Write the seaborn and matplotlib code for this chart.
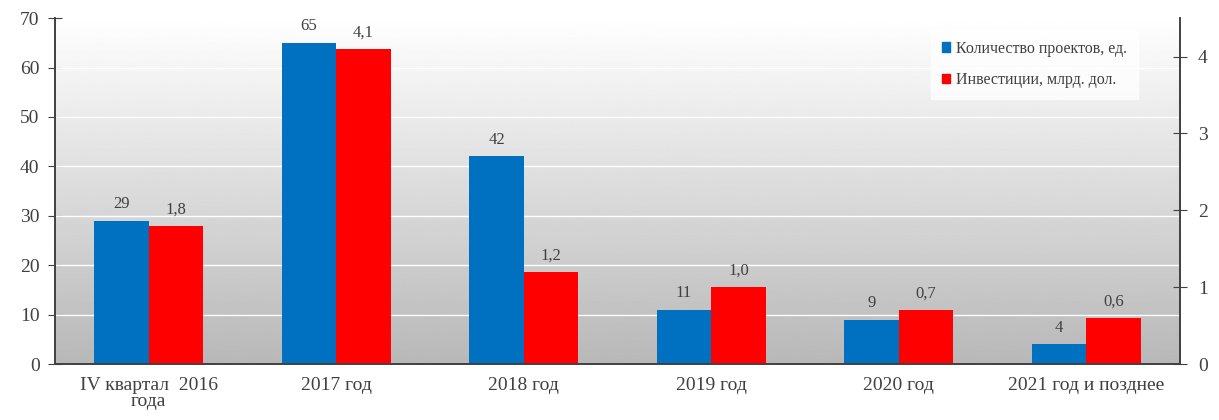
import numpy as np
import pandas as pd
import matplotlib
matplotlib.use("Agg")
import matplotlib.pyplot as plt
from matplotlib.patches import Patch
import seaborn as sns

categories = ["IV квартал  2016\nгода", "2017 год", "2018 год", "2019 год", "2020 год", "2021 год и позднее"]
projects = [29, 65, 42, 11, 9, 4]
investments = [1.8, 4.1, 1.2, 1.0, 0.7, 0.6]
series = ["Количество проектов, ед.", "Инвестиции, млрд. дол."]
colors = ["#0070c0", "#ff0000"]

sns.set_style("white")
plt.rcParams["font.family"] = ["Liberation Serif", "DejaVu Serif"]
txt = "#404040"

df_a = pd.DataFrame({"cat": categories, "val": projects, "series": series[0]})
df_b = pd.DataFrame({"cat": categories, "val": investments, "series": series[1]})

fig = plt.figure(figsize=(12.19, 4.2), dpi=100)
ax = fig.add_axes([0.045, 0.133, 0.923, 0.824])
ax2 = ax.twinx()

# gradient background
grad = np.linspace(0.72, 1.0, 256).reshape(-1, 1)
ax.imshow(grad, extent=[0, 1, 0, 1], transform=ax.transAxes, cmap="gray",
          vmin=0, vmax=1, aspect="auto", origin="lower", zorder=0)

sns.barplot(data=df_a, x="cat", y="val", hue="series", hue_order=series,
            palette=colors, width=0.58, order=categories, ax=ax, legend=False,
            saturation=1, dodge=True, linewidth=0, zorder=2)
sns.barplot(data=df_b, x="cat", y="val", hue="series", hue_order=series,
            palette=colors, width=0.58, order=categories, ax=ax2, legend=False,
            saturation=1, dodge=True, linewidth=0, zorder=2)

ax.set_xlim(-0.5, len(categories) - 0.5)
ax.set_ylim(0, 70)
ax2.set_ylim(0, 4.5)
ax.set_yticks(range(0, 71, 10))
ax2.set_yticks(range(0, 5))
for y in range(10, 70, 10):
    ax.axhline(y, color="white", lw=1, zorder=1)

for c in ax.containers:
    ax.bar_label(c, labels=[f"{v:.0f}" for v in c.datavalues], padding=6,
                 fontsize=12, color=txt)
for c in ax2.containers:
    ax2.bar_label(c, labels=[f"{v:.1f}".replace(".", ",") for v in c.datavalues],
                  padding=6, fontsize=12, color=txt)

ax.set_xlabel("")
ax.set_ylabel("")
ax2.set_ylabel("")
ax.set_xticks(range(len(categories)))
ax.set_xticklabels(categories, fontsize=14, color=txt, linespacing=0.95)
ax.set_xticks(np.arange(0.5, len(categories) - 1, 1), minor=True)
ax.tick_params(axis="x", which="major", length=0, pad=9)
ax.tick_params(axis="x", which="minor", length=8, direction="inout", color="#404040")
ax.tick_params(axis="y", length=10, direction="inout", labelsize=14, labelcolor=txt,
               color="#404040", pad=6)
ax2.tick_params(axis="y", length=10, direction="inout", labelsize=14, labelcolor=txt,
                color="#404040", pad=8)

for a in (ax, ax2):
    a.spines["top"].set_visible(False)
    for s in ("left", "right", "bottom"):
        a.spines[s].set_color("#404040")
        a.spines[s].set_linewidth(1.2)

handles = [Patch(color=c) for c in colors]
leg = ax2.legend(handles, series, loc="upper right", bbox_to_anchor=(0.97, 0.99),
                 frameon=True, fontsize=11.5, handlelength=0.5, handleheight=0.5,
                 labelspacing=0.95, handletextpad=0.4, borderpad=0.7, fancybox=False)
leg.get_frame().set_facecolor("white")
leg.get_frame().set_edgecolor("white")
for t in leg.get_texts():
    t.set_color(txt)

fig.savefig("out.png", dpi=100)
